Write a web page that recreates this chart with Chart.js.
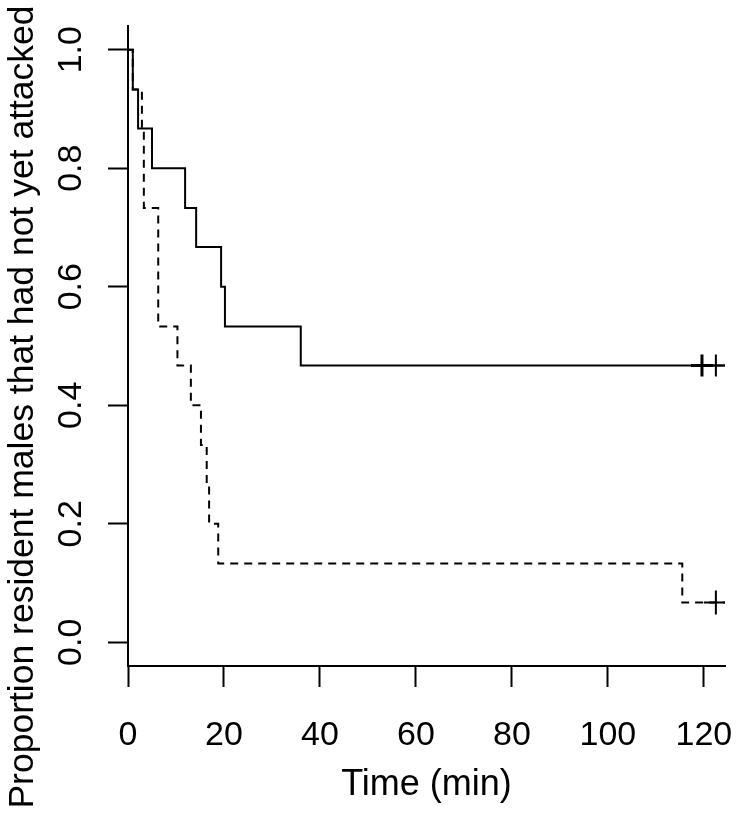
<!DOCTYPE html>
<html>
<head>
<meta charset="utf-8">
<script src="https://cdn.jsdelivr.net/npm/chart.js@4.4.1/dist/chart.umd.min.js"></script>
<style>
  body { margin: 0; background: #fff; }
  canvas { display: block; }
</style>
</head>
<body>
<canvas id="km" width="739" height="820"></canvas>
<script>
// values (time in min, proportion not yet attacked)
const solidTimes = [0, 1.0, 2.1, 5.0, 11.9, 14.2, 19.4, 20.2, 36.0, 124.4];
const solidSurv  = [1, 0.933, 0.867, 0.8, 0.733, 0.667, 0.6, 0.533, 0.467, 0.467];
const solidCensorTimes = [119.6, 122.5];
const solidCensorSurv  = [0.467, 0.467];

const dashedTimes = [0, 1.0, 2.9, 3.3, 6.3, 10.3, 13.1, 15.2, 16.4, 16.9, 18.8, 115.5, 124.4];
const dashedSurv  = [1, 0.933, 0.867, 0.733, 0.533, 0.467, 0.4, 0.333, 0.267, 0.2, 0.133, 0.067, 0.067];
const dashedCensorTimes = [122.5];
const dashedCensorSurv  = [0.067];

const xTicks = [0, 20, 40, 60, 80, 100, 120];
const yTicks = [0, 0.2, 0.4, 0.6, 0.8, 1.0];

const xTitle = "Time (min)";
const yTitle = "Proportion resident males that had not yet attacked";

function toPoints(xs, ys) {
  return xs.map((x, i) => ({ x: x, y: ys[i] }));
}

const fontFamily = "'Liberation Sans', Arial, sans-serif";
const tickFont = { family: fontFamily, size: 34 };
const titleFont = { family: fontFamily, size: 36 };

// y title is centred on the whole canvas height (as in the R plot), not on the chart area
const yTitlePlugin = {
  id: 'yTitle',
  afterDraw(chart) {
    const ctx = chart.ctx;
    ctx.save();
    ctx.translate(23, 407);
    ctx.rotate(-Math.PI / 2);
    ctx.font = "35.5px " + fontFamily;
    ctx.fillStyle = "#000";
    ctx.textAlign = "center";
    ctx.textBaseline = "middle";
    ctx.fillText(yTitle, 0, 0);
    ctx.restore();
  }
};

new Chart(document.getElementById("km"), {
  type: 'scatter',
  data: {
    datasets: [
      {
        data: toPoints(solidTimes, solidSurv),
        showLine: true,
        stepped: 'before',
        borderColor: "#000",
        borderWidth: 2,
        pointRadius: 0,
        fill: false
      },
      {
        data: toPoints(dashedTimes, dashedSurv),
        showLine: true,
        stepped: 'before',
        borderColor: "#000",
        borderWidth: 2,
        borderDash: [8, 6],
        pointRadius: 0,
        fill: false
      },
      {
        data: toPoints(solidCensorTimes, solidCensorSurv),
        showLine: false,
        pointStyle: 'cross',
        pointRadius: 11,
        borderColor: "#000",
        borderWidth: [3, 2]
      },
      {
        data: toPoints(dashedCensorTimes, dashedCensorSurv),
        showLine: false,
        pointStyle: 'cross',
        pointRadius: 12,
        borderColor: "#000",
        borderWidth: 2
      }
    ]
  },
  options: {
    responsive: false,
    animation: false,
    events: [],
    layout: { padding: { top: 26, right: 14, left: 0, bottom: 0 } },
    plugins: { legend: { display: false }, tooltip: { enabled: false } },
    scales: {
      x: {
        type: 'linear',
        min: 0,
        max: 124.4,
        afterBuildTicks: (axis) => { axis.ticks = xTicks.map(v => ({ value: v })); },
        afterFit: (axis) => {
          axis.height = 154;
          axis.paddingLeft = 0;
          axis.paddingRight = 0;
        },
        border: { display: true, color: "#000", width: 2 },
        grid: { drawOnChartArea: false, drawTicks: true, tickLength: 21, tickColor: "#000", tickWidth: 2 },
        ticks: { color: "#000", font: tickFont, padding: 28, maxRotation: 0, autoSkip: false },
        title: { display: true, text: xTitle, color: "#000", font: titleFont, padding: { top: 0, bottom: 13 } }
      },
      y: {
        type: 'linear',
        min: -0.04,
        max: 1.04,
        afterBuildTicks: (axis) => { axis.ticks = yTicks.map(v => ({ value: v })); },
        afterFit: (axis) => {
          axis.width = 128;
          axis.paddingTop = 0;
          axis.paddingBottom = 0;
        },
        border: { display: true, color: "#000", width: 2 },
        grid: { drawOnChartArea: false, drawTicks: true, tickLength: 20, tickColor: "#000", tickWidth: 2 },
        ticks: {
          color: "#000", font: tickFont, padding: 13, minRotation: 90, maxRotation: 90,
          crossAlign: 'center', autoSkip: false,
          callback: (v) => Number(v).toFixed(1)
        },
        title: { display: false }
      }
    }
  },
  plugins: [yTitlePlugin]
});
</script>
</body>
</html>
